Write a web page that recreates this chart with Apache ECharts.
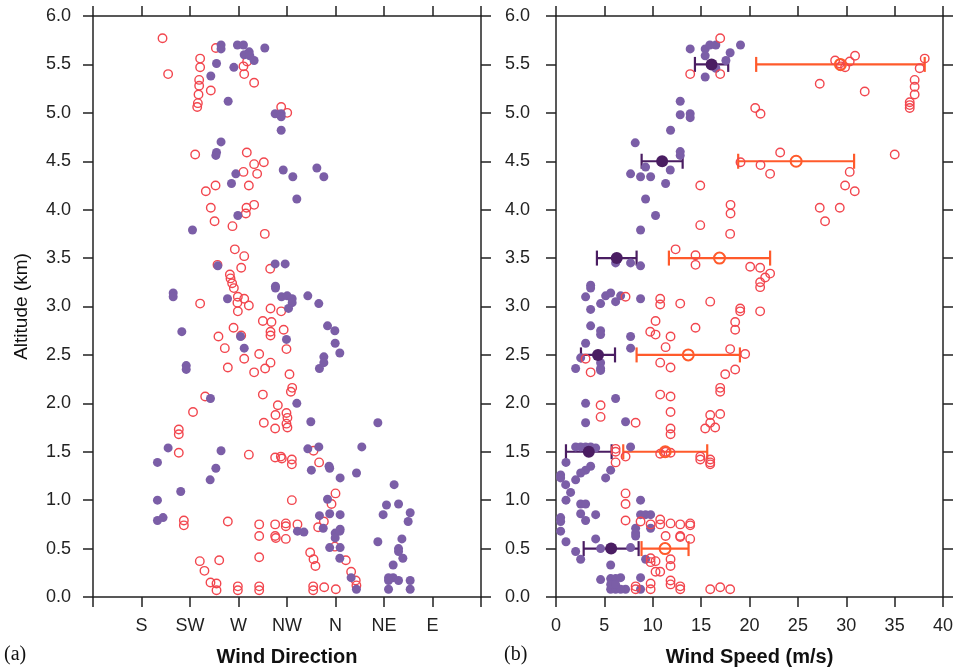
<!DOCTYPE html>
<html>
<head>
<meta charset="utf-8">
<script src="https://cdn.jsdelivr.net/npm/echarts@6.0.0/dist/echarts.min.js"></script>
<style>
  html, body { margin: 0; padding: 0; background: #fff; }
  #chart { width: 959px; height: 672px; }
</style>
</head>
<body>
<div id="chart"></div>
<script>
// panel (a): wind direction (deg, S=180 ... E=450) vs altitude (km)
const dirRed = [
  [199.5,5.77],[204.7,5.40],[249,5.67],[234.4,5.56],[234.4,5.47],[233.5,5.34],[233.5,5.28],[232.9,5.19],[232.3,5.10],[231.7,5.06],
  [244.3,5.23],[274.6,5.48],[275.3,5.40],[284.5,5.31],[278,5.53],[309.6,5.06],[315.2,5.00],
  [229.8,4.57],[277.7,4.59],[293.5,4.49],[284.5,4.47],[274.6,4.39],[287.3,4.37],[279.6,4.25],[248.7,4.25],[239.7,4.19],
  [244.3,4.02],[277.4,4.02],[284.5,4.05],[276.8,3.96],[247.8,3.88],[264.4,3.83],[294.4,3.75],
  [266.6,3.59],[275.3,3.52],[272.5,3.40],[299.4,3.39],[250.5,3.43],[262,3.33],[262.6,3.29],[264.1,3.24],[265.7,3.19],
  [269.4,3.10],[275.3,3.08],[269,3.04],[279.6,3.01],[234.4,3.03],[269.4,2.95],[299.7,2.98],[309.6,2.95],[292.6,2.85],
  [300.6,2.84],[311.9,2.76],[299.7,2.74],[299.7,2.70],[265.4,2.78],[251.4,2.69],[272.5,2.70],
  [257.3,2.57],[275.3,2.46],[289.2,2.51],[260.1,2.37],[284.5,2.32],[294.7,2.36],[299.7,2.42],[314.5,2.56],[317.3,2.30],
  [319.8,2.16],[318.6,2.12],[292.6,2.09],[239.1,2.07],[227.8,1.91],[306.5,1.98],[304.3,1.88],[314.5,1.90],[315.4,1.85],
  [314.5,1.79],[315.4,1.75],[293.5,1.80],[304,1.74],[214.6,1.73],[214.6,1.68],[214.6,1.49],[279.6,1.47],[304,1.44],
  [309.3,1.45],[310.2,1.43],[319.5,1.42],[319.5,1.37],[339.6,1.51],[344.8,1.39],[360,1.07],[356.3,0.96],[319.5,1.00],
  [219.3,0.79],[219.3,0.74],[260.1,0.78],[289.2,0.75],[289.2,0.63],[289.2,0.41],[304,0.75],[304,0.63],[304.6,0.61],
  [313.9,0.76],[313.9,0.73],[324.7,0.75],[313.9,0.60],[343.9,0.72],[349.2,0.78],[359.4,0.52],[336.5,0.46],[339.6,0.39],
  [341.4,0.32],[369.6,0.38],[374.5,0.26],[378.8,0.17],[379.4,0.12],[234.1,0.37],[238.4,0.27],[252.1,0.38],[244,0.15],
  [249.6,0.14],[249.6,0.07],[269.4,0.11],[269.4,0.07],[289.2,0.11],[289.2,0.07],[339.3,0.11],[339.3,0.07],[349.5,0.10],[360.3,0.08]
];
const dirPurple = [
  [253.8,5.70],[253.8,5.66],[269,5.70],[274.6,5.70],[294.4,5.67],[279.9,5.63],[275.3,5.60],[280.5,5.59],[284.5,5.54],
  [249.6,5.51],[265.7,5.47],[244.3,5.38],[260.4,5.12],[304,4.99],[309.6,4.99],[309.6,4.96],[309.6,4.82],[253.8,4.70],
  [249.6,4.59],[249,4.56],[267.5,4.37],[263.5,4.27],[311.5,4.41],[320.4,4.34],[342.7,4.43],[349.2,4.34],[324.1,4.11],
  [269.4,3.94],[227.3,3.79],[250.8,3.42],[304,3.44],[313.3,3.44],[304.3,3.21],[304.3,3.19],[209.4,3.14],[209.4,3.10],
  [259.8,3.08],[309.9,3.10],[315.2,3.11],[319.8,3.08],[319.8,3.04],[334.3,3.11],[344.5,3.03],[316.4,2.98],[352.6,2.80],
  [217.4,2.74],[271.9,2.69],[314.5,2.66],
  [275.3,2.57],[221.5,2.39],[221.5,2.35],[345.1,2.36],[349.2,2.48],[349.2,2.42],[359.7,2.62],[364,2.52],[359.4,2.75],
  [244,2.05],[324.1,2.00],[337.1,1.81],[399.3,1.80],[194.8,1.39],[204.7,1.54],[253.8,1.51],[249,1.33],[243.7,1.21],
  [334.3,1.53],[344.5,1.55],[337.6,1.31],[354,1.35],[354.6,1.33],[364.3,1.23],[379.5,1.28],[384.4,1.55],[194.8,1.00],
  [216.4,1.09],[194.8,0.79],[200,0.82],[345.1,0.84],[352.6,1.01],[354.6,0.86],[364.3,0.85],[348.6,0.71],[324.7,0.68],
  [330.7,0.67],[359.7,0.66],[359.7,0.61],[364.3,0.70],[364,0.68],[354.6,0.51],[364.3,0.51],[364,0.40],[374.5,0.20],
  [379.4,0.08],[414.4,1.16],[407.3,0.95],[418.5,0.96],[404.2,0.85],[429.3,0.87],[427.4,0.78],[399.3,0.57],[421.6,0.60],
  [418.5,0.50],[418.5,0.47],[422.5,0.40],[413.5,0.33],[409.2,0.20],[413.5,0.20],[409.2,0.17],[418.5,0.17],[429.3,0.17],
  [409.2,0.08],[429.3,0.08]
];

// panel (b): wind speed (m/s) vs altitude (km)
const spdPurple = [
  [13.87,5.66],[15.42,5.66],[15.9,5.70],[16.52,5.70],[19.07,5.70],[18.0,5.62],[15.42,5.59],[17.56,5.54],[16.52,5.46],
  [15.42,5.37],[12.84,5.12],[12.84,4.98],[13.87,4.99],[13.87,4.95],[11.84,4.82],[8.19,4.69],[12.84,4.60],[12.84,4.56],
  [9.26,4.44],[11.81,4.41],[7.71,4.37],[8.74,4.34],[9.78,4.34],[11.33,4.27],[9.26,4.11],[10.29,3.94],[8.74,3.79],
  [6.16,3.45],[7.71,3.45],[8.74,3.42],[3.58,3.22],[3.58,3.19],[3.06,3.10],[5.13,3.11],[5.65,3.14],[6.68,3.11],
  [6.16,3.05],[4.61,3.03],[8.74,3.08],[3.58,2.97],[3.58,2.80],[4.61,2.75],[7.71,2.69],[4.61,2.71],
  [3.06,2.62],[7.71,2.57],[2.55,2.47],[4.61,2.42],[4.61,2.36],[4.61,2.34],[2.03,2.36],[3.06,2.00],[6.16,2.05],
  [3.06,1.80],[7.19,1.81],[7.71,1.55],[2.03,1.55],[2.55,1.55],[3.06,1.55],[3.58,1.55],[4.10,1.54],[1.03,1.39],
  [3.58,1.35],[3.06,1.31],[2.55,1.28],[5.65,1.31],[5.13,1.23],[2.03,1.21],[0.48,1.26],[0.48,1.23],[1.0,1.16],
  [1.51,1.08],[1.03,1.00],[2.55,0.96],[3.06,0.96],[2.55,0.86],[3.06,0.79],[4.10,0.85],[0.48,0.82],[0.48,0.78],
  [8.74,1.00],[8.74,0.85],[9.26,0.85],[9.78,0.85],[9.78,0.71],[8.23,0.71],[8.23,0.66],[8.23,0.63],[0.48,0.68],
  [1.03,0.57],[4.10,0.60],[2.03,0.47],[2.55,0.39],[4.61,0.50],[7.71,0.51],[9.26,0.39],[5.65,0.33],[4.61,0.18],
  [5.65,0.19],[6.16,0.19],[6.68,0.20],[5.65,0.08],[6.16,0.08],[7.19,0.08],[6.68,0.08],[8.74,0.20],[8.74,0.08],
  [5.65,0.13],[6.16,0.13]
];
const spdRed = [
  [16.97,5.77],[13.87,5.40],[16.97,5.40],[28.85,5.54],[29.33,5.51],[29.43,5.48],[29.88,5.47],[30.36,5.53],[30.91,5.59],
  [38.11,5.56],[37.59,5.46],[27.26,5.30],[31.91,5.22],[37.07,5.34],[37.07,5.27],[37.07,5.19],[36.56,5.11],[36.56,5.08],
  [36.56,5.05],[20.59,5.05],[21.14,4.99],[35.01,4.57],[23.17,4.59],[19.07,4.49],[21.14,4.46],[22.13,4.37],[30.36,4.39],
  [29.88,4.25],[30.88,4.19],[14.91,4.25],[18.04,4.05],[18.04,3.96],[27.26,4.02],[29.33,4.02],[27.81,3.88],[14.91,3.84],
  [18.0,3.75],[12.36,3.59],[14.42,3.53],[14.42,3.43],[20.07,3.41],[21.1,3.40],[21.62,3.30],[22.13,3.34],[21.1,3.25],
  [21.1,3.20],[7.19,3.10],[10.77,3.08],[10.77,3.02],[12.84,3.03],[15.94,3.05],[19.04,2.98],[19.04,2.95],[21.1,2.95],
  [10.29,2.85],[18.52,2.84],[18.52,2.76],[14.42,2.78],[9.74,2.74],[10.29,2.71],[11.84,2.69],
  [11.33,2.58],[18.0,2.56],[19.55,2.51],[3.06,2.46],[3.58,2.32],[10.77,2.42],[11.84,2.37],[18.52,2.35],[17.49,2.30],
  [16.97,2.16],[16.97,2.12],[10.77,2.09],[11.84,2.07],[4.61,1.98],[4.61,1.86],[11.84,1.91],[15.94,1.88],[16.97,1.89],
  [8.23,1.80],[15.94,1.80],[15.42,1.74],[16.45,1.75],[11.84,1.74],[11.84,1.68],[6.16,1.53],[6.16,1.50],[6.16,1.39],
  [7.19,1.45],[10.77,1.48],[11.33,1.50],[11.84,1.49],[14.91,1.45],[14.91,1.42],[15.94,1.42],[15.94,1.39],[15.94,1.37],
  [7.19,1.07],[7.19,0.96],[7.19,0.79],[8.74,0.78],[9.78,0.75],[10.77,0.80],[10.77,0.75],[11.84,0.76],[12.84,0.75],
  [13.87,0.76],[13.87,0.74],[11.33,0.63],[12.84,0.63],[12.84,0.62],[13.87,0.60],[9.78,0.40],[10.29,0.37],[9.78,0.36],
  [11.84,0.39],[11.84,0.32],[10.29,0.26],[10.77,0.26],[11.84,0.17],[11.84,0.13],[9.78,0.14],[9.78,0.08],[8.23,0.11],
  [8.23,0.08],[12.84,0.11],[12.84,0.08],[15.94,0.08],[16.97,0.10],[18.0,0.08]
];

// layer means +/- sd
const meanAlt    = [5.5, 4.5, 3.5, 2.5, 1.5, 0.5];
const purpleMean = [16.08, 10.97, 6.28, 4.34, 3.39, 5.70];
const purpleSd   = [1.72, 2.12, 2.05, 1.76, 2.36, 2.84];
const redMean    = [29.40, 24.82, 16.90, 13.67, 11.29, 11.27];
const redSd      = [8.71, 5.99, 5.23, 5.34, 4.34, 2.43];

const dirLabels = { 180: 'S', 225: 'SW', 270: 'W', 315: 'NW', 360: 'N', 405: 'NE', 450: 'E' };

const PURPLE = '#7b5ea7';
const DARK_PURPLE = '#4a1d62';
const RED = '#f2464e';
const ORANGE = '#ff5a2b';
const FONT = '"Liberation Sans", Arial, sans-serif';

const chart = echarts.init(document.getElementById('chart'));

function axisBase(extra) {
  return Object.assign({
    axisLine: { show: true, onZero: false, lineStyle: { color: '#222', width: 1.5 } },
    axisTick: { show: true, inside: false, length: 10, lineStyle: { color: '#222', width: 1.5 } },
    splitLine: { show: false },
    axisLabel: { show: false }
  }, extra);
}

const tickLabel = { show: true, color: '#222', fontSize: 18, fontFamily: FONT };
const axisName = { color: '#111', fontSize: 20, fontWeight: 'bold', fontFamily: FONT };

const errBars = (means, sds) => means.map((m, i) => [m - sds[i], m + sds[i], meanAlt[i]]);

function renderErr(color) {
  return function (params, api) {
    const a = api.coord([api.value(0), api.value(2)]);
    const b = api.coord([api.value(1), api.value(2)]);
    const h = 7.5;
    const style = { stroke: color, lineWidth: 2.2 };
    return {
      type: 'group',
      children: [
        { type: 'line', shape: { x1: a[0], y1: a[1], x2: b[0], y2: b[1] }, style },
        { type: 'line', shape: { x1: a[0], y1: a[1] - h, x2: a[0], y2: a[1] + h }, style },
        { type: 'line', shape: { x1: b[0], y1: b[1] - h, x2: b[0], y2: b[1] + h }, style }
      ]
    };
  };
}

const openCircle = { color: 'rgba(0,0,0,0)', borderColor: RED, borderWidth: 1.4, opacity: 1 };
const filled = { color: PURPLE, opacity: 1 };

chart.setOption({
  animation: false,
  backgroundColor: '#fff',
  grid: [
    { left: 93, top: 16, width: 388, height: 581 },
    { left: 556, top: 16, width: 387, height: 581 }
  ],
  xAxis: [
    axisBase({
      gridIndex: 0, type: 'value', position: 'bottom', min: 135, max: 495, interval: 45,
      axisLabel: Object.assign({}, tickLabel, { margin: 20, formatter: v => dirLabels[v] || '' }),
      name: 'Wind Direction', nameLocation: 'middle', nameGap: 50, nameTextStyle: axisName
    }),
    axisBase({ gridIndex: 0, type: 'value', position: 'top', min: 135, max: 495, interval: 45 }),
    axisBase({
      gridIndex: 1, type: 'value', position: 'bottom', min: 0, max: 40, interval: 5,
      axisLabel: Object.assign({}, tickLabel, { margin: 20 }),
      name: 'Wind Speed (m/s)', nameLocation: 'middle', nameGap: 50, nameTextStyle: axisName
    }),
    axisBase({ gridIndex: 1, type: 'value', position: 'top', min: 0, max: 40, interval: 5 })
  ],
  yAxis: [
    axisBase({
      gridIndex: 0, type: 'value', position: 'left', min: 0, max: 6, interval: 0.5,
      axisLabel: Object.assign({}, tickLabel, { margin: 22, formatter: v => v.toFixed(1) }),
      name: 'Altitude (km)', nameLocation: 'middle', nameGap: 62,
      nameTextStyle: { color: '#111', fontSize: 19, fontFamily: FONT }
    }),
    axisBase({ gridIndex: 0, type: 'value', position: 'right', min: 0, max: 6, interval: 0.5 }),
    axisBase({
      gridIndex: 1, type: 'value', position: 'left', min: 0, max: 6, interval: 0.5,
      axisLabel: Object.assign({}, tickLabel, { margin: 26, formatter: v => v.toFixed(1) })
    }),
    axisBase({ gridIndex: 1, type: 'value', position: 'right', min: 0, max: 6, interval: 0.5 })
  ],
  graphic: [
    { type: 'text', left: 4, top: 645, style: { text: '(a)', fontSize: 20, fontFamily: '"Liberation Serif", "Times New Roman", serif', fill: '#111' } },
    { type: 'text', left: 504, top: 645, style: { text: '(b)', fontSize: 20, fontFamily: '"Liberation Serif", "Times New Roman", serif', fill: '#111' } }
  ],
  series: [
    { type: 'scatter', xAxisIndex: 0, yAxisIndex: 0, data: dirRed, symbol: 'circle', symbolSize: 8.5, itemStyle: openCircle },
    { type: 'scatter', xAxisIndex: 0, yAxisIndex: 0, data: dirPurple, symbol: 'circle', symbolSize: 9, itemStyle: filled },
    { type: 'scatter', xAxisIndex: 2, yAxisIndex: 2, data: spdPurple, symbol: 'circle', symbolSize: 9, itemStyle: filled },
    { type: 'scatter', xAxisIndex: 2, yAxisIndex: 2, data: spdRed, symbol: 'circle', symbolSize: 8.5, itemStyle: openCircle },
    { type: 'custom', xAxisIndex: 2, yAxisIndex: 2, data: errBars(purpleMean, purpleSd), renderItem: renderErr(DARK_PURPLE), encode: { x: [0, 1], y: 2 } },
    { type: 'custom', xAxisIndex: 2, yAxisIndex: 2, data: errBars(redMean, redSd), renderItem: renderErr(ORANGE), encode: { x: [0, 1], y: 2 } },
    { type: 'scatter', xAxisIndex: 2, yAxisIndex: 2, data: purpleMean.map((m, i) => [m, meanAlt[i]]), symbol: 'circle', symbolSize: 12, itemStyle: { color: DARK_PURPLE, opacity: 1 } },
    { type: 'scatter', xAxisIndex: 2, yAxisIndex: 2, data: redMean.map((m, i) => [m, meanAlt[i]]), symbol: 'circle', symbolSize: 11, itemStyle: { color: 'rgba(0,0,0,0)', borderColor: ORANGE, borderWidth: 2, opacity: 1 } }
  ]
});
</script>
</body>
</html>
